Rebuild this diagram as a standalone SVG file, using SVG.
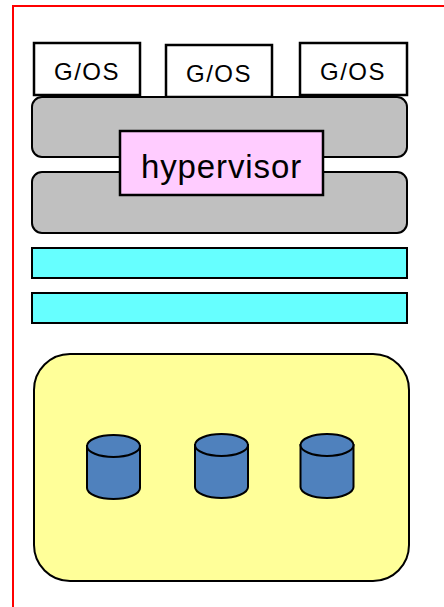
<svg xmlns="http://www.w3.org/2000/svg" width="444" height="607" viewBox="0 0 444 607">
<style>
.s{stroke:#000;stroke-width:2}
.b{stroke-width:2.500}
.os{fill:#fff}
.g{fill:#c0c0c0}
.c{fill:#66ffff}
.d{fill:#4f81bd}
text{font-family:"Liberation Sans","Noto Sans CJK JP",sans-serif;fill:#000;text-anchor:middle}
.t{font-size:24px;letter-spacing:1.500px}
</style>
<defs>
<g id="cyl">
<path class="s d" d="M0 11V53C0 59 12 64 26.500 64S53 59 53 53V11Z"/>
<ellipse class="s d" cx="26.500" cy="11" rx="26.500" ry="11"/>
</g>
</defs>
<rect width="444" height="607" fill="#fff"/>
<path id="frame" d="M13 607V6H444" fill="none" stroke="#f00" stroke-width="2"/>
<g id="guest1"><rect class="s b os" x="34" y="43" width="106" height="52"/><text class="t" x="87" y="79.500">G/OS</text></g>
<g id="guest2"><rect class="s b os" x="166" y="45" width="106" height="52"/><text class="t" x="219" y="81.500">G/OS</text></g>
<g id="guest3"><rect class="s b os" x="300" y="43" width="107" height="52"/><text class="t" x="353" y="79.500">G/OS</text></g>
<g id="layer1"><rect class="s g" x="32" y="97" width="375" height="60" rx="10"/></g>
<g id="layer2"><rect class="s g" x="32" y="172" width="375" height="61" rx="10"/></g>
<g id="hypervisor"><rect class="s b" fill="#ffccff" x="120" y="131" width="203" height="64"/><text x="221.500" y="178" font-size="33" letter-spacing="0.900">hypervisor</text></g>
<g id="bar1"><rect class="s c" x="32" y="248" width="375" height="30"/></g>
<g id="bar2"><rect class="s c" x="32" y="293" width="375" height="30"/></g>
<g id="storage"><rect class="s" fill="#ffff99" x="34" y="354" width="375" height="227" rx="36"/></g>
<g id="disk1"><use href="#cyl" x="87" y="435"/></g>
<g id="disk2"><use href="#cyl" x="195" y="434"/></g>
<g id="disk3"><use href="#cyl" x="300.500" y="434"/></g>
<g id="connectors"/>
</svg>
